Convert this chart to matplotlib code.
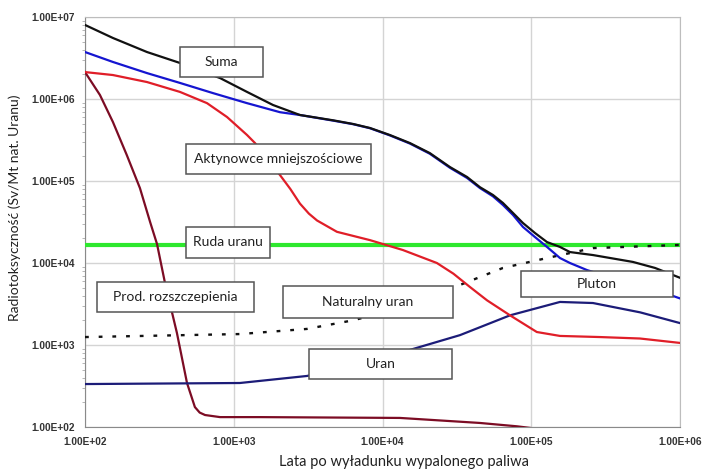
import math

import matplotlib
matplotlib.use("Agg")
import matplotlib.pyplot as plt
from matplotlib.patches import Rectangle
from matplotlib.ticker import FuncFormatter, LogLocator, NullFormatter

# years after unloading vs. radiotoxicity (Sv per Mt of natural uranium)
suma_t = [100, 154, 261, 435, 809, 1228, 1836, 2787, 4650, 6340, 8240, 11200,
          15300, 20800, 28400, 37000, 45200, 55300, 64500, 75400, 88000, 106000,
          127600, 156000, 182000, 260000, 483000, 680000, 1000000]
suma_v = [8.0e6, 5.55e6, 3.74e6, 2.75e6, 1.8e6, 1.22e6, 8.45e5, 6.38e5, 5.5e5,
          4.96e5, 4.43e5, 3.64e5, 2.9e5, 2.19e5, 1.48e5, 1.12e5, 8.4e4, 6.75e4,
          5.4e4, 4.07e4, 3.07e4, 2.32e4, 1.8e4, 1.57e4, 1.36e4, 1.25e4, 1.03e4,
          8.7e3, 6.6e3]

pluton_t = [100, 154, 261, 435, 725, 1228, 2047, 2787, 4650, 6340, 8240, 11200,
            15300, 20800, 28400, 37000, 45200, 55300, 64500, 75400, 88000, 106000,
            127600, 156000, 182000, 237000, 290000, 480000, 898000, 1000000]
pluton_v = [3.74e6, 2.83e6, 2.07e6, 1.57e6, 1.18e6, 8.9e5, 6.9e5, 6.38e5, 5.45e5,
            4.93e5, 4.4e5, 3.6e5, 2.86e5, 2.15e5, 1.45e5, 1.09e5, 8.2e4, 6.5e4,
            5.1e4, 3.85e4, 2.75e4, 2.07e4, 1.57e4, 1.15e4, 1.0e4, 8.2e3, 7.3e3,
            5.4e3, 3.96e3, 3.7e3]

aktyn_t = [100, 154, 261, 435, 661, 901, 1228, 1390, 2047, 2400, 2787, 3200, 3630,
           4940, 8240, 13700, 23200, 30000, 38700, 50500, 72000, 109000, 156000,
           290000, 538000, 1000000]
aktyn_v = [2.13e6, 1.96e6, 1.61e6, 1.22e6, 8.9e5, 6.03e5, 3.64e5, 2.9e5, 1.18e5,
           8.0e4, 5.3e4, 4.0e4, 3.3e4, 2.4e4, 1.9e4, 1.44e4, 1.0e4, 7.4e3, 5.1e3,
           3.5e3, 2.3e3, 1.44e3, 1.29e3, 1.25e3, 1.2e3, 1.06e3]

prod_t = [100, 126, 154, 191, 234, 274, 305, 345, 415, 485, 548, 590, 641, 809,
          1500, 13100, 45200, 80000, 127600]
prod_v = [2.13e6, 1.12e6, 5.25e5, 2.07e5, 8.2e4, 3.16e4, 1.7e4, 5.7e3, 1.4e3,
          344, 175, 150, 140, 132, 132, 129, 112, 102, 92]

uran_t = [100, 1100, 3100, 7060, 16000, 33200, 72000, 156000, 260000, 540000,
          1000000]
uran_v = [334, 344, 419, 570, 893, 1.32e3, 2.3e3, 3.35e3, 3.25e3, 2.5e3, 1.85e3]

natur_t = [100, 1100, 3100, 6340, 17900, 33200, 64500, 127600, 260000, 1000000]
natur_v = [1.25e3, 1.36e3, 1.57e3, 2.0e3, 3.25e3, 5.4e3, 8.7e3, 1.15e4, 1.52e4,
           1.66e4]

ruda_t = [100, 1000000]
ruda_v = [1.66e4, 1.66e4]

# label boxes in pixels: (text, x0, y0, x1, y1) measured from the top-left corner
labels = [
    ("Suma", 180, 47, 263, 77),
    ("Aktynowce mniejszościowe", 186, 144, 371, 174),
    ("Ruda uranu", 186, 227, 270, 258),
    ("Prod. rozszczepienia", 97, 282, 254, 312),
    ("Naturalny uran", 283, 286, 453, 318),
    ("Uran", 309, 349, 452, 379),
    ("Pluton", 521, 271, 673, 297),
]

W, H = 704, 470
fig = plt.figure(figsize=(W / 100, H / 100), dpi=100)
ax = fig.add_axes((85 / W, 1 - 427 / H, 595 / W, 410 / H))

ax.set_xscale("log")
ax.set_yscale("log")
ax.set_xlim(100, 1e6)
ax.set_ylim(100, 1e7)

ax.grid(True, which="major", color="#d4d4d4", lw=1.0)
ax.set_axisbelow(True)

ax.plot(ruda_t, ruda_v, color="#2ee82e", lw=3.0, zorder=3)
ax.plot(prod_t, prod_v, color="#7c0c24", lw=1.6, zorder=3)
ax.plot(uran_t, uran_v, color="#1c1c78", lw=1.6, zorder=3)
ax.plot(natur_t, natur_v, color="#111111", lw=1.7, ls=(0, (1.6, 4.2)), zorder=3)
ax.plot(aktyn_t, aktyn_v, color="#e01e28", lw=1.6, zorder=3)
ax.plot(pluton_t, pluton_v, color="#1515d0", lw=1.6, zorder=3)
ax.plot(suma_t, suma_v, color="#111111", lw=1.6, zorder=4)

fmt = FuncFormatter(lambda v, p: "1.00E+%02d" % round(math.log10(v)))
ax.xaxis.set_major_formatter(fmt)
ax.yaxis.set_major_formatter(fmt)
ax.xaxis.set_major_locator(LogLocator(base=10, numticks=10))
ax.yaxis.set_major_locator(LogLocator(base=10, numticks=10))
ax.xaxis.set_minor_formatter(NullFormatter())
ax.yaxis.set_minor_formatter(NullFormatter())
ax.tick_params(axis="both", which="major", length=0, pad=7, labelsize=7.3,
               labelcolor="#333333")
ax.tick_params(axis="x", which="minor", length=0)
ax.tick_params(axis="y", which="minor", length=2, color="#aaaaaa")
for lab in ax.get_xticklabels() + ax.get_yticklabels():
    lab.set_fontweight("bold")
    lab.set_family("Liberation Sans")

for side in ("top", "right"):
    ax.spines[side].set_color("#bdbdbd")
for side in ("left", "bottom"):
    ax.spines[side].set_color("#8a8a8a")

for text, x0, y0, x1, y1 in labels:
    rect = Rectangle((x0 / W, 1 - y1 / H), (x1 - x0) / W, (y1 - y0) / H,
                     transform=fig.transFigure, facecolor="white",
                     edgecolor="#555555", lw=1.1, zorder=10)
    fig.add_artist(rect)
    fig.text((x0 + x1) / 2 / W, 1 - (y0 + y1) / 2 / H, text, ha="center",
             va="center", fontsize=10, family="Lato", color="#222222", zorder=11)

fig.text(404 / W, 1 - 462 / H, "Lata po wyładunku wypalonego paliwa",
         ha="center", va="center", fontsize=10.5, family="Lato", color="#222222")
fig.text(15 / W, 1 - 208 / H, "Radiotoksyczność (Sv/Mt nat. Uranu)",
         ha="center", va="center", rotation=90, fontsize=10, family="Lato",
         color="#222222")

fig.savefig("out.png", dpi=100, facecolor="white")
